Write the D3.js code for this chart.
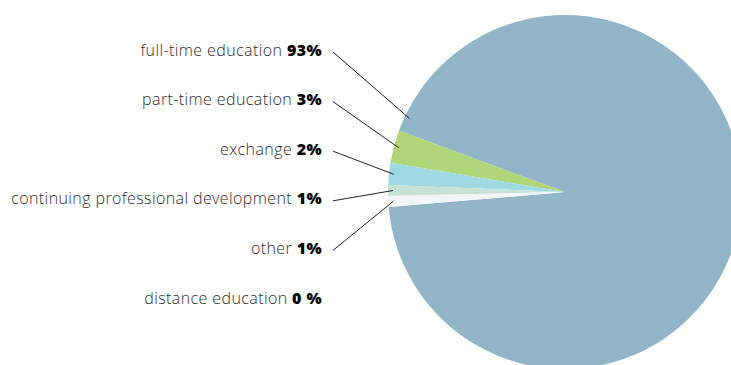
<!DOCTYPE html>
<html>
<head>
<meta charset="utf-8">
<script src="https://cdn.jsdelivr.net/npm/d3@7"></script>
<style>
  html, body { margin: 0; padding: 0; background: #fff; }
  svg { display: block; }
  .lbl { font-family: "Open Sans", Lato, sans-serif; font-size: 16px; font-weight: 300; fill: #2e2e2e; letter-spacing: 0.4px; }
  .lbl .val { font-weight: 800; fill: #000; }
</style>
</head>
<body>
<svg id="chart" width="731" height="365"></svg>
<script>
// Study modes and their shares (%)
const categories = [
  "full-time education",
  "part-time education",
  "exchange",
  "continuing professional development",
  "other",
  "distance education"
];
const shares = [93, 3, 2, 1, 1, 0];
const valueLabels = ["93%", "3%", "2%", "1%", "1%", "0 %"];
const sliceColors = ["#93b5c8", "#b1d579", "#9fd9e3", "#c7e2d5", "#f3f6f7", "#dfe9ee"];

const width = 731, height = 365;
const cx = 565, cy = 192, radius = 177;
const deg = Math.PI / 180;

const svg = d3.select("#chart");

// The small slices sit just above the 9 o'clock position, running counter-clockwise.
const smallTotal = d3.sum(shares.slice(1)) / d3.sum(shares) * 360;
const groupCentre = 270 + 7.7;
const groupTop = groupCentre + smallTotal / 2;
const start = (groupTop - 360 + shares[0] / d3.sum(shares) * 360) * deg;

const pie = d3.pie().sort(null).value(d => d)
  .startAngle(start).endAngle(start - 2 * Math.PI);
const arcs = pie(shares);

const arc = d3.arc().innerRadius(0).outerRadius(radius);

const g = svg.append("g").attr("transform", `translate(${cx},${cy})`);
g.selectAll("path")
  .data(arcs)
  .join("path")
  .attr("d", arc)
  .attr("fill", (d, i) => sliceColors[i]);

// Labels on the left, right-aligned, with leader lines into each slice
const labelX = 322, lineX = 333;
const labelY = d3.scalePoint().domain(d3.range(categories.length)).range([50, 298]);
const pointR = radius - 5;

const label = svg.append("g").selectAll("text")
  .data(categories)
  .join("text")
  .attr("class", "lbl")
  .attr("text-anchor", "end")
  .attr("x", labelX)
  .attr("y", (d, i) => labelY(i) + 5.5);
label.append("tspan").text(d => d + " ");
label.append("tspan").attr("class", "val").text((d, i) => valueLabels[i]);

function anchorAngle(d, i) {
  if (i === 0) return d.endAngle + 5 * deg;
  return (d.startAngle + d.endAngle) / 2;
}

svg.append("g").selectAll("line")
  .data(arcs.filter(d => d.value > 0))
  .join("line")
  .attr("x1", lineX)
  .attr("y1", d => labelY(d.index) + 2)
  .attr("x2", d => cx + pointR * Math.sin(anchorAngle(d, d.index)))
  .attr("y2", d => cy - pointR * Math.cos(anchorAngle(d, d.index)))
  .attr("stroke", "#222")
  .attr("stroke-width", 1);
</script>
</body>
</html>
